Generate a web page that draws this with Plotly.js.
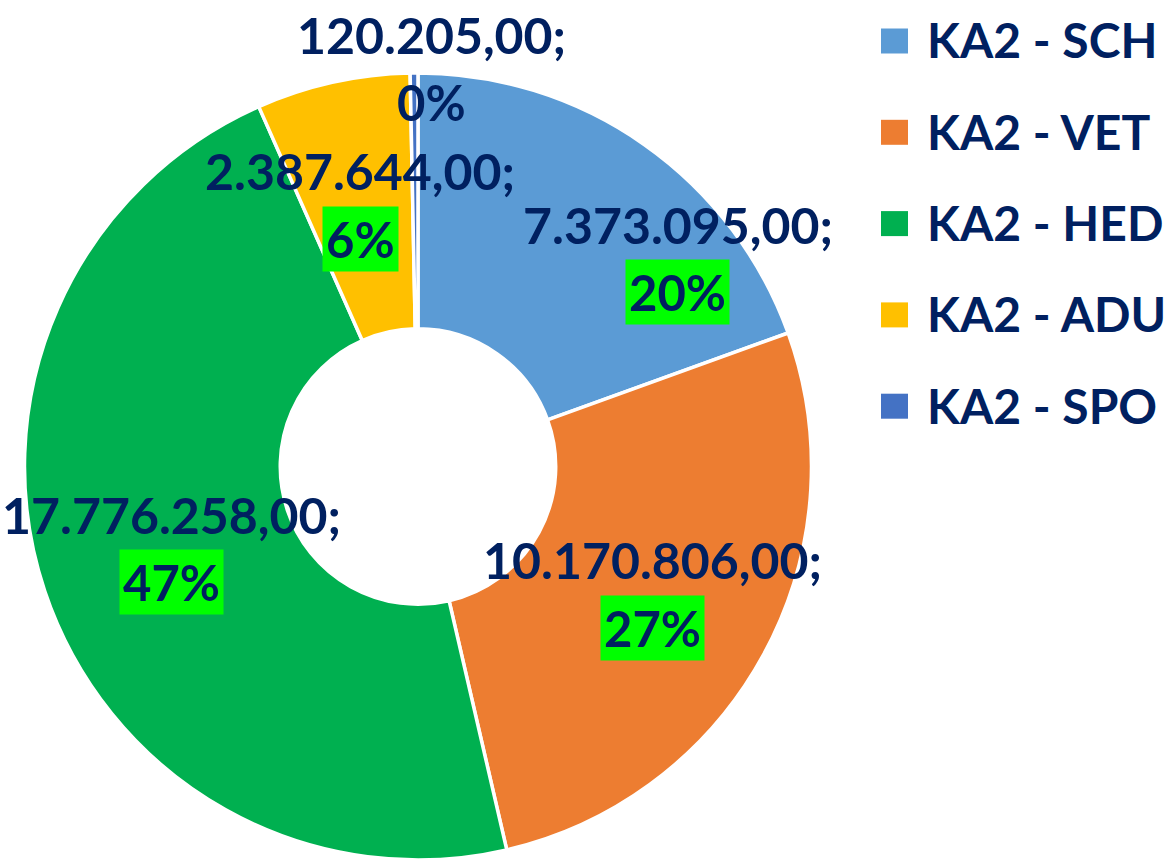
<!DOCTYPE html>
<html><head><meta charset="utf-8">
<script src="https://cdn.plot.ly/plotly-3.0.1.min.js"></script>
<style>html,body{margin:0;padding:0;background:#fff;} #chart{width:1170px;height:860px;}</style>
</head><body><div id="chart"></div>
<script>
// ---- data ----
const categories = ['KA2 - SCH', 'KA2 - VET', 'KA2 - HED', 'KA2 - ADU', 'KA2 - SPO'];
const amounts = [7373095.00, 10170806.00, 17776258.00, 2387644.00, 120205.00];
const sliceColors = ['#5B9BD5', '#ED7D31', '#00B050', '#FFC000', '#4472C4'];

// ---- style ----
const W = 1170, H = 860;
const FONT = 'Lato, "Open Sans", sans-serif';
const NAVY = '#002060';
const FS_LEGEND = 48, FS_VALUE = 50, FS_PCT = 49;
const dom = {x: [0.0205, 0.694], y: [0, 0.9151]};
const HOLE = 0.35;
// label placement: radius as a fraction of the pie radius, optional angle shift (deg)
const insideR = 0.68, outsideR = 1.012;
const labelTweak = {0: {dAngle: 16.3, r: 0.845}, 2: {r: 0.66}, 4: {dAngle: 2.5}};

// ---- helpers ----
function fmtNum(v) {
  const parts = v.toFixed(2).split('.');
  const intPart = parts[0].replace(/\B(?=(\d{3})+(?!\d))/g, '.');
  return intPart + ',' + parts[1];
}
// Excel-style percentages that add up to 100 (largest remainder)
function percents(vals) {
  const tot = vals.reduce((a, b) => a + b, 0);
  const raw = vals.map(v => v / tot * 100);
  const fl = raw.map(Math.floor);
  let left = 100 - fl.reduce((a, b) => a + b, 0);
  const order = raw.map((r, i) => [r - Math.floor(r), i]).sort((a, b) => b[0] - a[0]);
  for (let k = 0; k < left; k++) fl[order[k][1]] += 1;
  return fl;
}

const total = amounts.reduce((a, b) => a + b, 0);
const pct = percents(amounts);

const pxW = (dom.x[1] - dom.x[0]) * W, pxH = (dom.y[1] - dom.y[0]) * H;
const R = Math.min(pxW, pxH) / 2;
const cx = (dom.x[0] + dom.x[1]) / 2 * W;
const cy = H - (dom.y[0] + dom.y[1]) / 2 * H;

const annotations = [];
const shapes = [];
let cum = 0;
amounts.forEach((v, i) => {
  const frac = v / total;
  const mid = cum + frac / 2;
  cum += frac;
  const tw = labelTweak[i] || {};
  const rf = tw.r !== undefined ? tw.r : (frac < 0.01 ? outsideR : insideR);
  const ang = (mid * 360 + (tw.dAngle || 0)) * Math.PI / 180;
  const px = cx + rf * R * Math.sin(ang);
  const py = cy - rf * R * Math.cos(ang);
  annotations.push({
    xref: 'paper', yref: 'paper', x: px / W, y: 1 - (py - 34) / H,
    text: fmtNum(v) + ';', showarrow: false, xanchor: 'center', yanchor: 'middle',
    font: {family: FONT, size: FS_VALUE, color: NAVY, weight: 700}
  });
  annotations.push({
    xref: 'paper', yref: 'paper', x: px / W, y: 1 - (py + 33.5) / H,
    text: pct[i] + '%', showarrow: false, xanchor: 'center', yanchor: 'middle',
    bgcolor: pct[i] > 0 ? '#00FF00' : 'rgba(0,0,0,0)', borderpad: 3,
    font: {family: FONT, size: FS_PCT, color: NAVY, weight: 700}
  });
});

// manual legend
categories.forEach((c, i) => {
  const rowY = 40 + i * 91.3;
  shapes.push({
    type: 'rect', xref: 'paper', yref: 'paper',
    x0: 881 / W, x1: 908 / W, y0: 1 - (rowY + 13.5) / H, y1: 1 - (rowY - 11.5) / H,
    fillcolor: sliceColors[i], line: {width: 0}
  });
  annotations.push({
    xref: 'paper', yref: 'paper', x: 925 / W, y: 1 - rowY / H,
    text: c, showarrow: false, xanchor: 'left', yanchor: 'middle',
    font: {family: FONT, size: FS_LEGEND, color: NAVY, weight: 700}
  });
});

const trace = {
  type: 'pie', labels: categories, values: amounts, sort: false,
  direction: 'clockwise', rotation: 0, hole: HOLE,
  marker: {colors: sliceColors, line: {color: '#FFFFFF', width: 3.5}},
  textinfo: 'none', hoverinfo: 'label+value+percent', domain: dom, showlegend: false
};

Plotly.newPlot('chart', [trace], {
  width: W, height: H, margin: {l: 0, r: 0, t: 0, b: 0},
  paper_bgcolor: '#FFFFFF', showlegend: false,
  annotations: annotations, shapes: shapes
}, {displayModeBar: false, staticPlot: true});
</script></body></html>
